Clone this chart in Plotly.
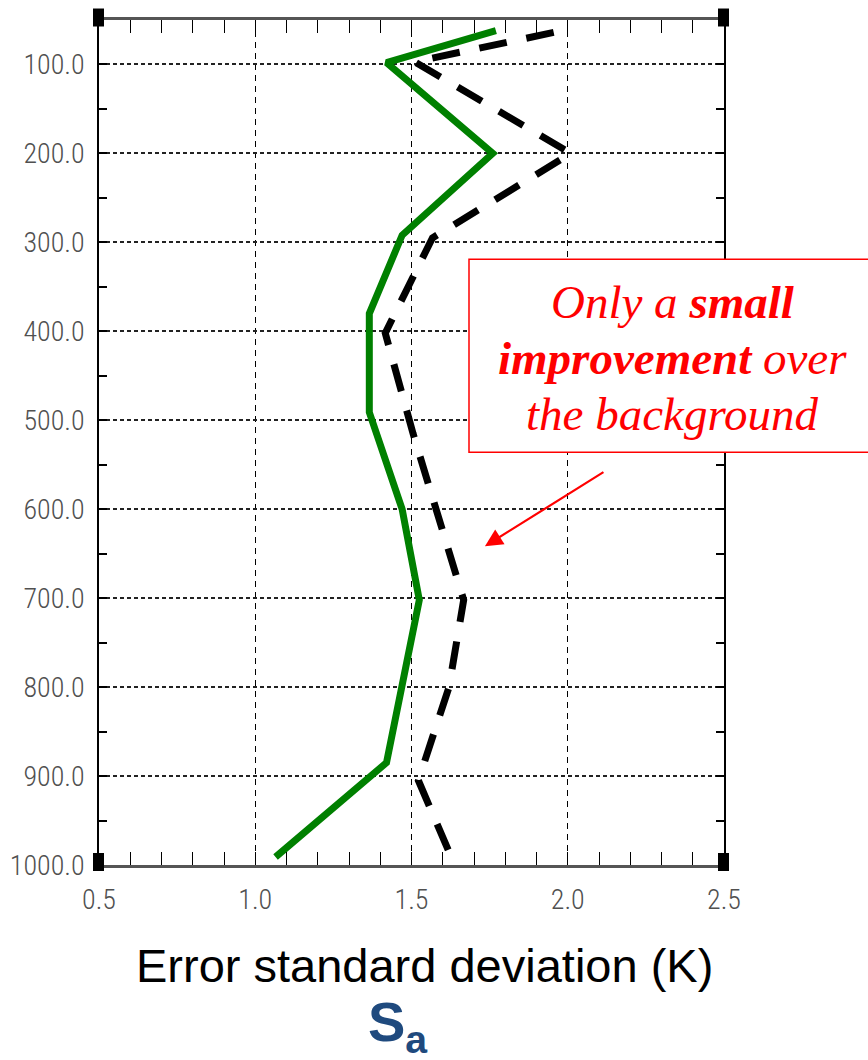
import plotly.graph_objects as go

# Error standard deviation profiles (K) against pressure (hPa)
analysis_err = [1.77, 1.42, 1.76, 1.47, 1.365, 1.365, 1.47, 1.525, 1.42, 1.065]
analysis_lev = [62, 98, 200, 292, 380, 491, 600, 702, 885, 991]

background_err = [1.955, 1.51, 2.01, 1.567, 1.416, 1.505, 1.667, 1.62, 1.522, 1.632]
background_lev = [64, 97, 200, 295, 402, 515, 702, 800, 905, 995]

x_ticks = [0.5, 1.0, 1.5, 2.0, 2.5]
x_ticktext = ["0.5", "1.0", "1.5", "2.0", "2.5"]
y_ticks = [100, 200, 300, 400, 500, 600, 700, 800, 900, 1000]
y_ticktext = ["100.0", "200.0", "300.0", "400.0", "500.0",
              "600.0", "700.0", "800.0", "900.0", "1000.0"]

callout_lines = ["<i>Only a <b>small</b></i>",
                 "<i><b>improvement</b> over</i>",
                 "<i>the background</i>"]

W, H = 868, 1060
L, R, T, B = 99, 868 - 724, 19.5, 1060 - 865
PW, PH = W - L - R, H - T - B


def px(xp):
    return (xp - L) / PW


def py(yp):
    return 1 - (yp - T) / PH


tick_font = dict(family="Roboto Condensed, Open Sans Condensed, Liberation Sans Narrow, "
                        "DejaVu Sans Condensed, sans-serif",
                 size=28, color="#505050", weight=300)

fig = go.Figure()
fig.add_trace(go.Scatter(
    x=background_err, y=background_lev, mode="lines",
    line=dict(color="black", width=7, dash="28px,20px"),
    showlegend=False, hoverinfo="skip"))
fig.add_trace(go.Scatter(
    x=analysis_err, y=analysis_lev, mode="lines",
    line=dict(color="#008000", width=7),
    showlegend=False, hoverinfo="skip"))

fig.update_xaxes(
    range=[0.5, 2.5], tickvals=x_ticks, ticktext=x_ticktext, automargin=False,
    ticks="inside", ticklen=13, tickwidth=1, tickcolor="black",
    minor=dict(dtick=0.1, tick0=0.5, ticks="inside", ticklen=13, tickcolor="black", showgrid=False),
    showline=True, linecolor="#555555", linewidth=3, mirror="ticks",
    showgrid=True, gridcolor="black", gridwidth=1, griddash="6px,5px",
    zeroline=False, tickfont=tick_font, ticklabelstandoff=7)

fig.update_yaxes(
    range=[1000, 50], tickvals=y_ticks, ticktext=y_ticktext, automargin=False,
    ticks="inside", ticklen=8, tickwidth=1.5, tickcolor="black",
    minor=dict(dtick=50, tick0=0, ticks="inside", ticklen=8, tickcolor="black", showgrid=False),
    showline=True, linecolor="black", linewidth=1.5, mirror="ticks",
    showgrid=True, gridcolor="#222222", gridwidth=1.5, griddash="4px,3px",
    zeroline=False, tickfont=tick_font, ticklabelstandoff=7)

shapes = []
# corner blocks of the frame
for (x0, x1) in [(93, 104), (718, 729)]:
    for (y0, y1) in [(8, 26), (853, 871)]:
        shapes.append(dict(type="rect", xref="paper", yref="paper",
                           x0=px(x0), x1=px(x1), y0=py(y0), y1=py(y1),
                           fillcolor="black", line=dict(width=0), layer="above"))
# callout box
shapes.append(dict(type="rect", xref="paper", yref="paper",
                   x0=px(469), x1=px(880), y0=py(259), y1=py(452),
                   fillcolor="white", line=dict(color="red", width=1.5), layer="above"))

annotations = []
for line_text, ypix in zip(callout_lines, [302, 358, 414]):
    annotations.append(dict(
        xref="paper", yref="paper", x=px(672), y=py(ypix), text=line_text,
        showarrow=False, xanchor="center", yanchor="middle",
        font=dict(family="Liberation Serif, Times New Roman, serif", size=47, color="red")))

annotations += [
    dict(xref="x", yref="y", x=1.735, y=641.6, axref="x", ayref="y", ax=2.119, ay=557.3,
         text="", showarrow=True, arrowhead=2, arrowsize=1.6, arrowwidth=2.2, arrowcolor="red"),
    dict(xref="paper", yref="paper", x=px(425), y=py(966),
         text="Error standard deviation (K)", showarrow=False,
         xanchor="center", yanchor="middle",
         font=dict(family="Liberation Sans, Arial, sans-serif", size=47, color="black")),
    dict(xref="paper", yref="paper", x=px(398), y=py(1026),
         text="<b>S<sub>a</sub></b>", showarrow=False,
         xanchor="center", yanchor="middle",
         font=dict(family="Liberation Sans, Arial, sans-serif", size=56, color="#1f4a7e")),
]

fig.update_layout(
    width=W, height=H, margin=dict(l=L, r=R, t=T, b=B),
    paper_bgcolor="white", plot_bgcolor="white",
    shapes=shapes, annotations=annotations)

fig.write_html("out.html")
